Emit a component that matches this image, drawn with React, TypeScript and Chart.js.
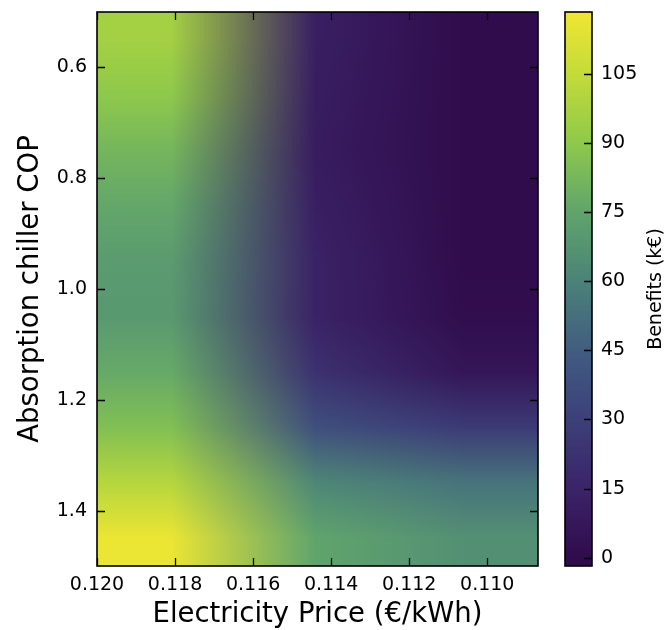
import React, { useEffect, useRef } from "react";
import { Chart, registerables } from "chart.js";

Chart.register(...registerables);

// ---- data ----
const priceNodes = [0.1181, 0.1144, 0.1106]; // electricity price grid (€/kWh)
const copNodes = [0.55, 0.65, 0.75, 0.85, 0.95, 1.05, 1.15, 1.25, 1.35, 1.45]; // absorption chiller COP grid
const benefitsPrice1181 = [96, 90, 82, 76, 71, 70, 77, 86, 101, 117];
const benefitsPrice1144 = [12, 11, 10, 12, 14, 14, 22, 38, 62, 75];
const benefitsPrice1106 = [0, 0, 0, 0, 0, 1, 6, 27, 54, 66];

const priceRange = [0.1087, 0.12];
const copRange = [0.5, 1.5];
const benefitRange = [-1.8, 118.4];

const priceTicks = [0.12, 0.118, 0.116, 0.114, 0.112, 0.11];
const copTicks = [0.6, 0.8, 1.0, 1.2, 1.4];
const benefitTicks = [0, 15, 30, 45, 60, 75, 90, 105];

// colour map stops (viridis-like, as seen in the reference)
const cmapStops = [-1.8, 0, 15, 30, 45, 60, 75, 90, 105, 118.4];
const cmapColors = [
  "#2f0a4a",
  "#300c4c",
  "#3b2468",
  "#3c4079",
  "#415d80",
  "#4b8278",
  "#60a46c",
  "#8ec94b",
  "#c4db39",
  "#f0e633",
];

const FONT = "'DejaVu Sans', 'Liberation Sans', sans-serif";

function hexToRgb(h: string): number[] {
  const n = parseInt(h.slice(1), 16);
  return [(n >> 16) & 255, (n >> 8) & 255, n & 255];
}
const cmapRgb = cmapColors.map(hexToRgb);

function cmap(v: number): number[] {
  if (v <= cmapStops[0]) return cmapRgb[0];
  const n = cmapStops.length;
  if (v >= cmapStops[n - 1]) return cmapRgb[n - 1];
  for (let k = 0; k < n - 1; k++) {
    if (v >= cmapStops[k] && v <= cmapStops[k + 1]) {
      const t = (v - cmapStops[k]) / (cmapStops[k + 1] - cmapStops[k]);
      const a = cmapRgb[k];
      const b = cmapRgb[k + 1];
      return [a[0] + (b[0] - a[0]) * t, a[1] + (b[1] - a[1]) * t, a[2] + (b[2] - a[2]) * t];
    }
  }
  return cmapRgb[n - 1];
}

// fractional index of v within (monotonic) nodes, clamped
function fracIndex(nodes: number[], v: number): number {
  const n = nodes.length;
  const asc = nodes[n - 1] > nodes[0];
  const s = (x: number) => (asc ? x : -x);
  if (s(v) <= s(nodes[0])) return 0;
  if (s(v) >= s(nodes[n - 1])) return n - 1;
  for (let k = 0; k < n - 1; k++) {
    if (s(v) >= s(nodes[k]) && s(v) <= s(nodes[k + 1])) {
      return k + (v - nodes[k]) / (nodes[k + 1] - nodes[k]);
    }
  }
  return n - 1;
}

const heatmapPlugin = {
  id: "heatmap",
  beforeDatasetsDraw(chart: any) {
    const { ctx, chartArea } = chart;
    const xs = chart.scales.x;
    const ys = chart.scales.y;
    const { left, top, width, height } = chartArea;
    const columns = [benefitsPrice1181, benefitsPrice1144, benefitsPrice1106];
    const nodeColors = columns.map((col) => col.map((v) => cmap(v)));
    const w = Math.round(width);
    const h = Math.round(height);
    const off = document.createElement("canvas");
    off.width = w;
    off.height = h;
    const octx = off.getContext("2d")!;
    const img = octx.createImageData(w, h);
    const fx: number[] = [];
    for (let i = 0; i < w; i++) fx.push(fracIndex(priceNodes, xs.getValueForPixel(left + i + 0.5)));
    const fy: number[] = [];
    for (let j = 0; j < h; j++) fy.push(fracIndex(copNodes, ys.getValueForPixel(top + j + 0.5)));
    const nc = priceNodes.length;
    const nr = copNodes.length;
    for (let j = 0; j < h; j++) {
      const r0 = Math.floor(fy[j]);
      const r1 = Math.min(r0 + 1, nr - 1);
      const ty = fy[j] - r0;
      for (let i = 0; i < w; i++) {
        const c0 = Math.floor(fx[i]);
        const c1 = Math.min(c0 + 1, nc - 1);
        const tx = fx[i] - c0;
        const p = (j * w + i) * 4;
        for (let ch = 0; ch < 3; ch++) {
          const a = nodeColors[c0][r0][ch] * (1 - tx) + nodeColors[c1][r0][ch] * tx;
          const b = nodeColors[c0][r1][ch] * (1 - tx) + nodeColors[c1][r1][ch] * tx;
          img.data[p + ch] = Math.round(a * (1 - ty) + b * ty);
        }
        img.data[p + 3] = 255;
      }
    }
    octx.putImageData(img, 0, 0);
    ctx.drawImage(off, left, top, width, height);
  },
};

const frameMain = {
  id: "frameMain",
  afterDraw(chart: any) {
    const { ctx, chartArea } = chart;
    const { left, top, right, bottom } = chartArea;
    const xs = chart.scales.x;
    const ys = chart.scales.y;
    ctx.save();
    ctx.strokeStyle = "#000";
    ctx.lineWidth = 1.3;
    const L = 8;
    ctx.beginPath();
    priceTicks.forEach((v) => {
      const px = Math.round(xs.getPixelForValue(v)) + 0.5;
      ctx.moveTo(px, bottom);
      ctx.lineTo(px, bottom - L);
      ctx.moveTo(px, top);
      ctx.lineTo(px, top + L);
    });
    copTicks.forEach((v) => {
      const py = Math.round(ys.getPixelForValue(v)) + 0.5;
      ctx.moveTo(left, py);
      ctx.lineTo(left + L, py);
      ctx.moveTo(right, py);
      ctx.lineTo(right - L, py);
    });
    ctx.stroke();
    ctx.lineWidth = 1.6;
    ctx.strokeRect(left, top, right - left, bottom - top);
    ctx.restore();
  },
};

const colorbarPlugin = {
  id: "colorbar",
  beforeDatasetsDraw(chart: any) {
    const { ctx, chartArea } = chart;
    const ys = chart.scales.y;
    const { left, top, width, height } = chartArea;
    for (let j = 0; j < Math.round(height); j++) {
      const c = cmap(ys.getValueForPixel(top + j + 0.5));
      ctx.fillStyle = `rgb(${Math.round(c[0])},${Math.round(c[1])},${Math.round(c[2])})`;
      ctx.fillRect(left, top + j, width, 1);
    }
  },
  afterDraw(chart: any) {
    const { ctx, chartArea } = chart;
    const ys = chart.scales.y;
    const { left, top, right, bottom } = chartArea;
    ctx.save();
    ctx.strokeStyle = "#000";
    ctx.lineWidth = 1.3;
    ctx.beginPath();
    benefitTicks.forEach((v) => {
      const py = Math.round(ys.getPixelForValue(v)) + 0.5;
      ctx.moveTo(right, py);
      ctx.lineTo(right - 8, py);
    });
    ctx.stroke();
    ctx.lineWidth = 1.6;
    ctx.strokeRect(left, top, right - left, bottom - top);
    // colour bar label, reading bottom to top
    ctx.translate(chart.width - 10, (top + bottom) / 2);
    ctx.rotate(-Math.PI / 2);
    ctx.fillStyle = "#000";
    ctx.font = `19px ${FONT}`;
    ctx.textAlign = "center";
    ctx.textBaseline = "middle";
    ctx.fillText("Benefits (k€)", 0, 0);
    ctx.restore();
  },
};

const noEdgePadding = (s: any) => {
  s.paddingTop = 0;
  s.paddingBottom = 0;
  s.paddingLeft = 0;
  s.paddingRight = 0;
};

export default function App() {
  const mainRef = useRef<HTMLCanvasElement>(null);
  const cbRef = useRef<HTMLCanvasElement>(null);

  useEffect(() => {
    const tickFont = { family: FONT, size: 19 };
    const main = new Chart(mainRef.current!, {
      type: "scatter",
      data: { datasets: [] },
      options: {
        animation: false,
        responsive: false,
        maintainAspectRatio: false,
        devicePixelRatio: 1,
        layout: { padding: { top: 12, right: 128, left: 0, bottom: 0 } },
        plugins: { legend: { display: false }, tooltip: { enabled: false } },
        scales: {
          x: {
            type: "linear",
            min: priceRange[0],
            max: priceRange[1],
            reverse: true,
            afterBuildTicks: (s: any) => {
              s.ticks = priceTicks.map((v) => ({ value: v }));
            },
            afterFit: (s: any) => {
              s.height = 64;
              noEdgePadding(s);
            },
            grid: { display: false, drawTicks: false },
            border: { display: false },
            ticks: {
              autoSkip: false,
              maxRotation: 0,
              padding: 8,
              color: "#000",
              font: tickFont,
              callback: (v: any) => Number(v).toFixed(3),
            },
            title: {
              display: true,
              text: "Electricity Price (€/kWh)",
              color: "#000",
              font: { family: FONT, size: 27.5, lineHeight: 1 },
              padding: { top: 0, bottom: 1 },
            },
          },
          y: {
            type: "linear",
            min: copRange[0],
            max: copRange[1],
            reverse: true,
            afterBuildTicks: (s: any) => {
              s.ticks = copTicks.map((v) => ({ value: v }));
            },
            afterFit: (s: any) => {
              s.width = 97;
              noEdgePadding(s);
            },
            grid: { display: false, drawTicks: false },
            border: { display: false },
            ticks: {
              autoSkip: false,
              padding: 10,
              color: "#000",
              font: tickFont,
              callback: (v: any) => Number(v).toFixed(1),
            },
            title: {
              display: true,
              text: "Absorption chiller COP",
              color: "#000",
              font: { family: FONT, size: 27.5, lineHeight: 1 },
              padding: { top: 17, bottom: 0 },
            },
          },
        },
      },
      plugins: [heatmapPlugin, frameMain],
    } as any);

    const cb = new Chart(cbRef.current!, {
      type: "scatter",
      data: { datasets: [] },
      options: {
        animation: false,
        responsive: false,
        maintainAspectRatio: false,
        devicePixelRatio: 1,
        layout: { padding: { top: 12, right: 0, left: 25, bottom: 64 } },
        plugins: { legend: { display: false }, tooltip: { enabled: false } },
        scales: {
          x: { type: "linear", display: false, min: 0, max: 1 },
          y: {
            type: "linear",
            position: "right",
            min: benefitRange[0],
            max: benefitRange[1],
            afterBuildTicks: (s: any) => {
              s.ticks = benefitTicks.map((v) => ({ value: v }));
            },
            afterFit: (s: any) => {
              s.width = 74;
              noEdgePadding(s);
            },
            grid: { display: false, drawTicks: false },
            border: { display: false },
            ticks: {
              autoSkip: false,
              padding: 9,
              color: "#000",
              font: tickFont,
              callback: (v: any) => String(v),
            },
          },
        },
      },
      plugins: [colorbarPlugin],
    } as any);

    return () => {
      main.destroy();
      cb.destroy();
    };
  }, []);

  return (
    <div style={{ position: "absolute", left: 0, top: 0, width: 666, height: 630, background: "#fff" }}>
      <canvas
        ref={mainRef}
        width={666}
        height={630}
        style={{ position: "absolute", left: 0, top: 0, width: 666, height: 630 }}
      />
      <canvas
        ref={cbRef}
        width={126}
        height={630}
        style={{ position: "absolute", left: 540, top: 0, width: 126, height: 630 }}
      />
    </div>
  );
}
